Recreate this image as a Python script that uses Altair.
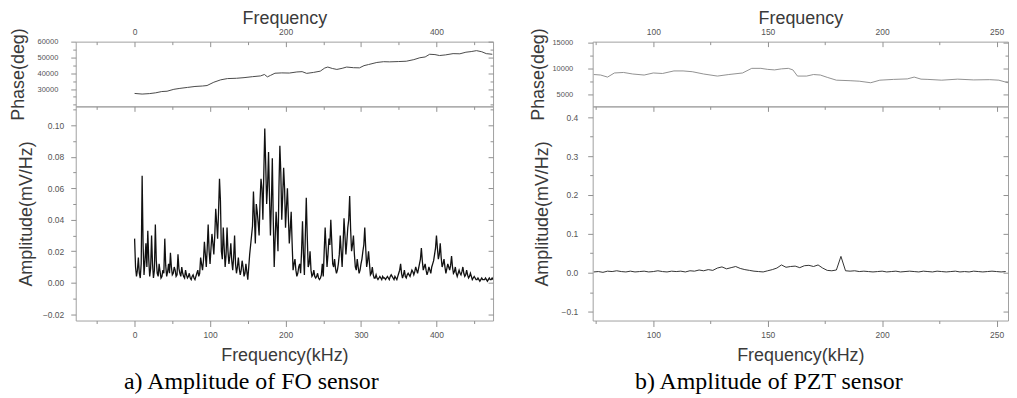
import altair as alt
import pandas as pd

# ---------------- data ----------------
# a) FO sensor: phase (top) and amplitude (bottom)
fo_phase_freq = [0, 10, 20, 28, 36, 43, 52, 60, 70, 80, 90, 96, 105, 114, 123, 135,
                 145, 156, 167, 172, 176, 180, 186, 195, 205, 215, 222, 228, 237, 246,
                 252, 256, 262, 268, 275, 281, 290, 298, 304, 310, 321, 330, 338, 350,
                 360, 370, 378, 385, 391, 398, 404, 412, 422, 431, 439, 446, 453, 460,
                 466, 474]
fo_phase_deg = [27200, 26800, 27100, 27600, 28400, 28600, 29800, 30400, 31000, 31600,
                31900, 32200, 34300, 35800, 36600, 36800, 37200, 37800, 38300, 39200,
                37700, 38600, 40000, 40200, 40100, 40800, 41000, 39900, 40500, 41300,
                43300, 43900, 43000, 42400, 43100, 43900, 43500, 43400, 44800, 45500,
                46800, 47300, 47200, 47400, 47600, 48600, 49800, 50300, 52000, 51800,
                51200, 51600, 52400, 52300, 53300, 53700, 54300, 53600, 52400, 52000]

# amplitude samples every 2.5 kHz (from 0 kHz) ...
fo_amp_step_khz = 2.5
fo_amp = [0.028, 0.004, 0.016, 0.003, 0.068, 0.005, 0.025, 0.033, 0.004, 0.030,
          0.003, 0.037, 0.006, 0.012, 0.003, 0.008, 0.028, 0.004, 0.012, 0.019,
          0.005, 0.010, 0.004, 0.018, 0.006, 0.010, 0.004, 0.008, 0.003, 0.006,
          0.002, 0.005, 0.002, 0.006, 0.004, 0.016, 0.008, 0.026, 0.010, 0.037,
          0.012, 0.031, 0.018, 0.047, 0.028, 0.066, 0.020, 0.035, 0.010, 0.035,
          0.012, 0.025, 0.008, 0.030, 0.006, 0.016, 0.005, 0.014, 0.004, 0.012,
          0.002, 0.018, 0.030, 0.058, 0.025, 0.045, 0.030, 0.066, 0.040, 0.098,
          0.050, 0.083, 0.030, 0.079, 0.010, 0.045, 0.020, 0.087, 0.040, 0.073,
          0.035, 0.060, 0.025, 0.045, 0.008, 0.015, 0.004, 0.010, 0.006, 0.039,
          0.005, 0.054, 0.010, 0.020, 0.004, 0.008, 0.003, 0.006, 0.002, 0.005,
          0.004, 0.035, 0.010, 0.028, 0.040, 0.012, 0.015, 0.006, 0.012, 0.030,
          0.010, 0.041, 0.018, 0.035, 0.055, 0.020, 0.030, 0.010, 0.015, 0.006,
          0.012, 0.020, 0.035, 0.010, 0.020, 0.005, 0.010, 0.003, 0.005, 0.002,
          0.004, 0.002, 0.003, 0.002, 0.004, 0.002, 0.005, 0.003, 0.004, 0.002,
          0.006, 0.012, 0.003, 0.008, 0.003, 0.006, 0.004, 0.008, 0.005, 0.010,
          0.006, 0.012, 0.022, 0.008, 0.012, 0.005, 0.010, 0.006, 0.012, 0.018,
          0.030, 0.015, 0.025, 0.010, 0.015, 0.006, 0.012, 0.008, 0.017, 0.006,
          0.010, 0.004, 0.008, 0.005, 0.010, 0.004, 0.008, 0.003, 0.006, 0.002,
          0.004, 0.002, 0.003, 0.001, 0.003, 0.002, 0.003, 0.001, 0.003, 0.002,
          0.002]
# ... and the samples that lie between them (1.25 kHz, 3.75 kHz, ...)
fo_amp_mid_start_khz = 1.25
fo_amp_mid = [0.010, 0.008, 0.006, 0.012, 0.024, 0.014, 0.010, 0.015, 0.009, 0.012,
              0.008, 0.014, 0.004, 0.007, 0.004, 0.006, 0.011, 0.007, 0.006, 0.010,
              0.006, 0.008, 0.005, 0.009, 0.004, 0.006, 0.003, 0.005, 0.004, 0.003,
              0.004, 0.003, 0.004, 0.008, 0.006, 0.012, 0.014, 0.018, 0.022, 0.020,
              0.022, 0.025, 0.030, 0.038, 0.045, 0.052, 0.015, 0.022, 0.018, 0.020,
              0.017, 0.014, 0.016, 0.012, 0.010, 0.009, 0.008, 0.010, 0.006, 0.007,
              0.010, 0.024, 0.036, 0.042, 0.050, 0.038, 0.052, 0.060, 0.070, 0.075,
              0.062, 0.055, 0.050, 0.040, 0.028, 0.035, 0.060, 0.070, 0.055, 0.060,
              0.048, 0.042, 0.034, 0.025, 0.012, 0.008, 0.006, 0.012, 0.020, 0.018,
              0.030, 0.030, 0.012, 0.008, 0.005, 0.004, 0.004, 0.003, 0.003, 0.012,
              0.020, 0.022, 0.018, 0.024, 0.026, 0.010, 0.009, 0.008, 0.018, 0.020,
              0.024, 0.030, 0.026, 0.040, 0.034, 0.024, 0.018, 0.008, 0.010, 0.008,
              0.015, 0.024, 0.022, 0.014, 0.012, 0.006, 0.005, 0.003, 0.003, 0.003,
              0.003, 0.004, 0.003, 0.003, 0.003, 0.004, 0.004, 0.002, 0.003, 0.004,
              0.008, 0.006, 0.005, 0.004, 0.005, 0.005, 0.006, 0.007, 0.007, 0.008,
              0.009, 0.015, 0.014, 0.010, 0.008, 0.007, 0.008, 0.010, 0.014, 0.022,
              0.022, 0.018, 0.016, 0.012, 0.010, 0.009, 0.010, 0.011, 0.010, 0.007,
              0.006, 0.006, 0.006, 0.007, 0.006, 0.005, 0.005, 0.004, 0.004, 0.003,
              0.003, 0.002, 0.002, 0.002, 0.002, 0.002, 0.002, 0.002, 0.002, 0.003]

# b) PZT sensor: phase (top) and amplitude (bottom)
pzt_phase_freq = [74, 77, 80, 83, 87, 91, 96, 100, 104, 109, 113, 117, 122, 128, 133,
                  139, 143, 147, 150, 153, 156, 159, 161, 163, 167, 170, 173, 176, 180,
                  186, 190, 195, 199, 205, 211, 214, 217, 220, 226, 233, 240, 247, 251,
                  255]
pzt_phase_deg = [8800, 8700, 8300, 9100, 9200, 8900, 8700, 9100, 9000, 9500, 9500, 9350,
                 8900, 8500, 8800, 9100, 10000, 10000, 9800, 9700, 9900, 10000, 9700,
                 8500, 8500, 8800, 8700, 8250, 7700, 7600, 7500, 7200, 7700, 7850, 7950,
                 8300, 7900, 7850, 7700, 7900, 7750, 7800, 7700, 7200]

pzt_amp_start_khz = 74
pzt_amp_step_khz = 2
pzt_amp = [0.002, 0.003, 0.001, 0.004, 0.003, 0.005, 0.003, 0.002, 0.004, 0.002,
           0.003, 0.004, 0.002, 0.003, 0.005, 0.003, 0.002, 0.004, 0.003, 0.004,
           0.002, 0.005, 0.004, 0.007, 0.005, 0.008, 0.006, 0.012, 0.015, 0.010,
           0.013, 0.016, 0.011, 0.008, 0.006, 0.004, 0.003, 0.002, 0.005, 0.008,
           0.012, 0.020, 0.014, 0.016, 0.017, 0.013, 0.018, 0.019, 0.016, 0.020,
           0.012, 0.006, 0.005, 0.007, 0.042, 0.005, 0.004, 0.005, 0.003, 0.004,
           0.003, 0.002, 0.003, 0.004, 0.002, 0.003, 0.004, 0.002, 0.003, 0.004,
           0.003, 0.002, 0.004, 0.003, 0.002, 0.004, 0.003, 0.002, 0.003, 0.004,
           0.002, 0.003, 0.002, 0.004, 0.003, 0.002, 0.003, 0.004, 0.003, 0.002,
           0.003]

# tick values
fo_x_major = [0, 100, 200, 300, 400]
fo_x_minor = [-50, 50, 150, 250, 350, 450]
fo_x_top_labels = [0, 200, 400]
fo_phase_y = [30000, 40000, 50000, 60000]
fo_phase_y_minor = [20000, 25000, 35000, 45000, 55000]
fo_amp_y = [-0.02, 0.0, 0.02, 0.04, 0.06, 0.08, 0.10]
fo_amp_y_minor = [-0.01, 0.01, 0.03, 0.05, 0.07, 0.09, 0.11]

pzt_x_major = [100, 150, 200, 250]
pzt_x_minor = [75, 125, 175, 225]
pzt_phase_y = [5000, 10000, 15000]
pzt_phase_y_minor = [7500, 12500]
pzt_amp_y = [-0.1, 0.0, 0.1, 0.2, 0.3, 0.4]
pzt_amp_y_minor = [-0.05, 0.05, 0.15, 0.25, 0.35]

captions = ["a) Amplitude of FO sensor", "b) Amplitude of PZT sensor"]

# ---------------- tables ----------------
fo_phase_df = pd.DataFrame({"f": fo_phase_freq, "v": fo_phase_deg})
fo_amp_df = pd.concat([
    pd.DataFrame({"f": [i * fo_amp_step_khz for i in range(len(fo_amp))], "v": fo_amp}),
    pd.DataFrame({"f": [fo_amp_mid_start_khz + i * fo_amp_step_khz for i in range(len(fo_amp_mid))],
                  "v": fo_amp_mid}),
]).sort_values("f").reset_index(drop=True)
pzt_phase_df = pd.DataFrame({"f": pzt_phase_freq, "v": pzt_phase_deg})
pzt_amp_df = pd.DataFrame({"f": [pzt_amp_start_khz + i * pzt_amp_step_khz for i in range(len(pzt_amp))],
                           "v": pzt_amp})

FONT = "Liberation Sans"
FRAME = "#a0a0a0"
TICK = "#909090"
LABEL = "#555555"
TITLE = "#3a3a3a"


def hidden(**kw):
    return alt.Axis(labels=False, domain=False, grid=False, title=None, ticks=True,
                    tickColor=TICK, tickWidth=1, **kw)


def subplot(df, color, sw, xdom, ydom, w, h, kind,
            x_labels, x_major, x_minor, x_title, x_fmt, x_lab_pad, x_title_pad,
            y_labels, y_minor, y_title, y_fmt, y_lab_pad, y_title_pad, y_lab_size):
    xs = alt.Scale(domain=xdom, nice=False, zero=False)
    ys = alt.Scale(domain=ydom, nice=False, zero=False)

    if kind == "amp":
        ax1 = alt.Axis(orient="bottom", values=x_labels, format=x_fmt, ticks=True, tickSize=6,
                       tickColor=TICK, labelPadding=x_lab_pad, title=x_title,
                       titlePadding=x_title_pad, domain=False, grid=False)
        ax2 = hidden(orient="bottom", values=x_minor, tickSize=3)
    else:
        ax1 = alt.Axis(orient="top", values=x_labels, format=x_fmt, ticks=False, tickSize=0,
                       labelPadding=x_lab_pad, title=x_title, titlePadding=x_title_pad,
                       domain=False, grid=False)
        ax2 = None
    ay1 = alt.Axis(orient="left", values=y_labels, format=y_fmt, ticks=True, tickSize=5,
                   tickColor=TICK, labelPadding=y_lab_pad, labelFontSize=y_lab_size,
                   title=y_title, titlePadding=y_title_pad, domain=False, grid=False)
    ay2 = hidden(orient="left", values=y_minor, tickSize=3)
    ax3 = hidden(orient="top", values=x_major, tickSize=5, offset=-5)
    ay3 = hidden(orient="right", values=y_labels, tickSize=5, offset=-5)
    ax4 = hidden(orient="top", values=x_minor, tickSize=3, offset=-3)
    ay4 = hidden(orient="right", values=y_minor, tickSize=3, offset=-3)

    base = alt.Chart(df)
    l1 = base.mark_line(color=color, strokeWidth=sw, clip=True).encode(
        x=alt.X("f:Q", scale=xs, axis=ax1), y=alt.Y("v:Q", scale=ys, axis=ay1))
    if ax2 is None:
        l2 = base.mark_line(opacity=0).encode(
            x=alt.X("f:Q", scale=xs, axis=None), y=alt.Y("v:Q", scale=ys, axis=ay2))
    else:
        l2 = base.mark_line(opacity=0).encode(
            x=alt.X("f:Q", scale=xs, axis=ax2), y=alt.Y("v:Q", scale=ys, axis=ay2))
    l3 = base.mark_line(opacity=0).encode(
        x=alt.X("f:Q", scale=xs, axis=ax3), y=alt.Y("v:Q", scale=ys, axis=ay3))
    l4 = base.mark_line(opacity=0).encode(
        x=alt.X("f:Q", scale=xs, axis=ax4), y=alt.Y("v:Q", scale=ys, axis=ay4))
    return alt.layer(l1, l2, l3, l4).resolve_axis(x="independent", y="independent").properties(
        width=w, height=h)


FO_X = [-78, 475]
PZT_X = [73.5, 255]

fo_phase = subplot(fo_phase_df, "#4a4a4a", 1.0, FO_X, [19000, 60000], 419, 65, "phase",
                   fo_x_top_labels, fo_x_major, fo_x_minor, "Frequency", "d", 5, 0,
                   fo_phase_y, fo_phase_y_minor, "Phase(deg)", "d", 13, 10, 7.5)
fo_ampl = subplot(fo_amp_df, "#111111", 1.3, FO_X, [-0.024, 0.112], 419, 215, "amp",
                  fo_x_major, fo_x_major, fo_x_minor, "Frequency(kHz)", "d", 4, 8,
                  fo_amp_y, fo_amp_y_minor, "Amplitude(mV/Hz)", ".2f", 7, 7, 8.5)
pzt_phase = subplot(pzt_phase_df, "#858585", 0.9, PZT_X, [2600, 15200], 417, 65, "phase",
                    pzt_x_major, pzt_x_major, pzt_x_minor, "Frequency", "d", 5, 0,
                    pzt_phase_y, pzt_phase_y_minor, "Phase(deg)", "d", 15, 5, 7.5)
pzt_ampl = subplot(pzt_amp_df, "#333333", 1.0, PZT_X, [-0.123, 0.428], 417, 215, "amp",
                   pzt_x_major, pzt_x_major, pzt_x_minor, "Frequency(kHz)", "d", 4, 8,
                   pzt_amp_y, pzt_amp_y_minor, "Amplitude(mV/Hz)", ".1f", 10, 10, 8.5)


def cap(text):
    return alt.TitleParams(text=text, orient="bottom", anchor="middle", frame="bounds",
                           font="Liberation Serif", fontSize=24, fontWeight="normal",
                           color="#000000", offset=5)


left = alt.vconcat(fo_phase, fo_ampl, spacing=0, bounds="flush").properties(title=cap(captions[0]))
right = alt.vconcat(pzt_phase, pzt_ampl, spacing=0, bounds="flush").properties(title=cap(captions[1]))

chart = alt.hconcat(left, right, spacing=34).properties(
    padding={"left": 0, "top": 0, "right": 0, "bottom": 0}
).configure_view(stroke=FRAME, strokeWidth=1).configure_axis(
    labelFont=FONT, labelColor=LABEL, labelFontSize=8.5, titleFont=FONT, titleFontSize=18,
    titleFontWeight="normal", titleColor=TITLE, labelFlush=False, labelOverlap=False,
    grid=False
)

chart.save("out.html", embed_options={"renderer": "svg", "actions": False})
